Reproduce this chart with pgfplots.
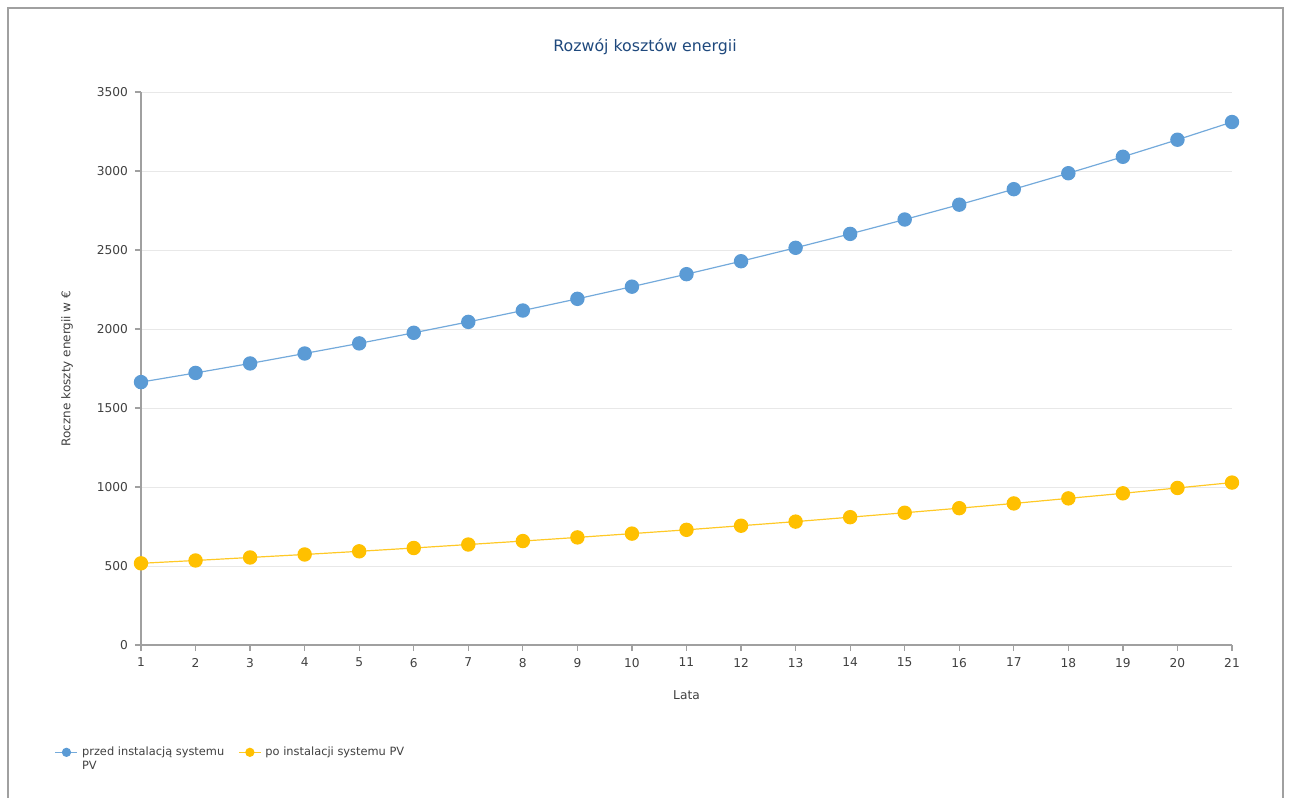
\documentclass[border=0pt]{standalone}
\usepackage{fontspec}
\setmainfont{DejaVu Sans}
\usepackage{pgfplots}
\pgfplotsset{compat=1.18}
\definecolor{pvblue}{RGB}{91,155,213}
\definecolor{pvyellow}{RGB}{255,192,0}
\definecolor{titleblue}{RGB}{31,73,125}
\definecolor{axgray}{RGB}{160,160,160}
\definecolor{gridgray}{RGB}{232,232,232}
\definecolor{txt}{RGB}{64,64,64}
\begin{document}
\begin{tikzpicture}
\path[use as bounding box] (0,0) rectangle (646pt,-399pt);
\draw[axgray, line width=1pt] (4pt,-400pt) -- (4pt,-4pt) -- (641.5pt,-4pt) -- (641.5pt,-400pt);
\begin{axis}[
  at={(70.5pt,-322.5pt)}, anchor=south west,
  scale only axis, width=545.5pt, height=276.5pt,
  xmin=1, xmax=21, ymin=0, ymax=3500,
  xtick={1,...,21}, ytick={0,500,...,3500},
  axis lines=left, axis line style={axgray, line width=0.6pt, -},
  tick align=outside, major tick length=3pt,
  tick style={axgray, line width=0.6pt},
  ymajorgrids, grid style={gridgray, line width=0.5pt},
  ticklabel style={font=\fontsize{6.1}{7}\selectfont, text=txt},
  /pgf/number format/assume math mode=true,
  scaled y ticks=false, yticklabel style={/pgf/number format/1000 sep={}},
  title={Rozwój kosztów energii},
  title style={at={(rel axis cs:0.462,1.06)}, anchor=center, font=\fontsize{7.9}{9}\selectfont, text=titleblue},
  xlabel={Lata},
  xlabel style={at={(rel axis cs:0.5,-0.0904)}, anchor=center, font=\fontsize{6.1}{7}\selectfont, text=txt},
  ylabel={Roczne koszty energii w €},
  ylabel style={at={(rel axis cs:-0.0678,0.5)}, anchor=center, font=\fontsize{6}{7}\selectfont, text=txt},
  legend columns=2,
  legend style={at={(rel axis cs:-0.0848,-0.1673)}, anchor=north west, draw=none, fill=none,
    font=\fontsize{5.7}{7}\selectfont, text=txt,
    /tikz/every even column/.append style={column sep=5pt}},
  legend cell align=left,
  legend image code/.code={\draw[mark repeat=2,mark phase=2,#1,mark size=2pt] plot coordinates {(0pt,0pt)(5.5pt,0pt)(11pt,0pt)};},
]
\addplot[pvblue!85, line width=0.6pt, mark=*, mark size=3.3pt, mark options={pvblue, fill=pvblue}] coordinates {
(1,1664) (2,1722) (3,1782) (4,1845) (5,1909) (6,1976) (7,2045) (8,2117) (9,2191) (10,2268) (11,2347)
(12,2429) (13,2514) (14,2602) (15,2693) (16,2787) (17,2885) (18,2986) (19,3090) (20,3198) (21,3310)};
\addlegendentry{\begin{tabular}[t]{@{}l@{}}przed instalacją systemu\\PV\end{tabular}}
\addplot[pvyellow!85, line width=0.6pt, mark=*, mark size=3.3pt, mark options={pvyellow, fill=pvyellow}] coordinates {
(1,517) (2,535) (3,554) (4,573) (5,593) (6,614) (7,636) (8,658) (9,681) (10,705) (11,729)
(12,755) (13,781) (14,809) (15,837) (16,866) (17,896) (18,928) (19,960) (20,994) (21,1028)};
\addlegendentry{po instalacji systemu PV}
\end{axis}
\end{tikzpicture}
\end{document}
